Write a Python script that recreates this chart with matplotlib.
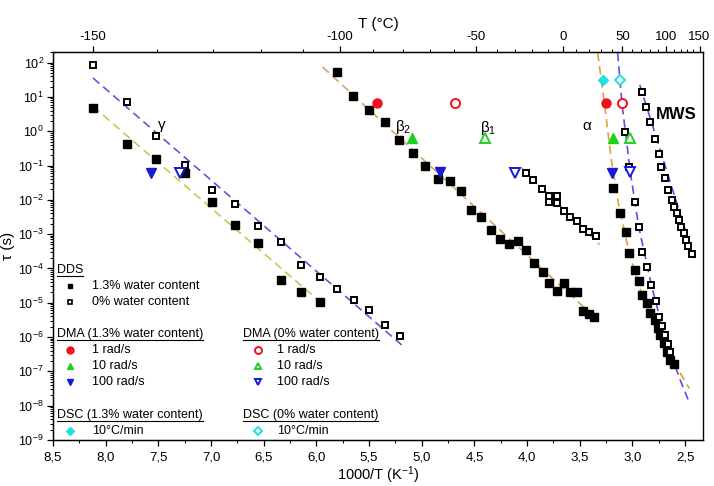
import numpy as np
import matplotlib
matplotlib.use("Agg")
import matplotlib.pyplot as plt
from matplotlib.ticker import MultipleLocator, LogLocator, FixedLocator, NullFormatter, FuncFormatter

plt.rcParams['font.family'] = ['Liberation Sans', 'DejaVu Sans']
plt.rcParams['mathtext.fontset'] = 'custom'
plt.rcParams['mathtext.rm'] = 'Liberation Sans'
plt.rcParams['mathtext.it'] = 'Liberation Sans:italic'
plt.rcParams['mathtext.default'] = 'regular'

# ---- DDS, gamma relaxation ----
gam0_x = [8.12, 7.80, 7.52, 7.25, 6.99, 6.77, 6.55, 6.34, 6.15, 5.97, 5.80, 5.64, 5.50, 5.35, 5.21]
gam0_logtau = [1.93, 0.86, -0.14, -0.98, -1.71, -2.12, -2.75, -3.24, -3.90, -4.26, -4.59, -4.92, -5.21, -5.65, -5.96]
gam13_x = [8.12, 7.80, 7.52, 7.25, 6.99, 6.77, 6.55, 6.34, 6.15, 5.97]
gam13_logtau = [0.69, -0.37, -0.82, -1.22, -2.07, -2.73, -3.27, -4.34, -4.68, -4.97]

# ---- DDS, beta2 (1.3 %) ----
beta2_x = [5.80, 5.65, 5.50, 5.35, 5.22, 5.08, 4.97, 4.85, 4.73, 4.63, 4.53, 4.44, 4.34, 4.26,
           4.17, 4.09, 4.01, 3.93, 3.85, 3.79, 3.72, 3.65, 3.59, 3.53, 3.47, 3.41, 3.36]
beta2_logtau = [1.74, 1.04, 0.62, 0.28, -0.25, -0.63, -1.01, -1.38, -1.46, -1.73, -2.31, -2.49, -2.88, -3.15,
                -3.29, -3.19, -3.46, -3.83, -4.11, -4.43, -4.66, -4.43, -4.69, -4.69, -5.25, -5.34, -5.41]

# ---- DDS, beta1 (0 %) ----
beta1_x = [4.01, 3.94, 3.86, 3.79, 3.72, 3.79, 3.72, 3.65, 3.59, 3.53, 3.47, 3.41, 3.35]
beta1_logtau = [-1.21, -1.43, -1.69, -1.89, -1.89, -2.05, -2.09, -2.33, -2.49, -2.62, -2.85, -2.93, -3.04]

# ---- DDS, alpha ----
alpha13_x = [3.18, 3.12, 3.06, 3.03, 2.98, 2.935, 2.91, 2.86, 2.83, 2.79, 2.76, 2.74, 2.70, 2.67, 2.64, 2.61]
alpha13_logtau = [-1.66, -2.39, -2.93, -3.54, -4.04, -4.38, -4.77, -5.01, -5.31, -5.50, -5.74, -5.94, -6.18, -6.43, -6.67, -6.78]
alpha0_x = [3.07, 3.03, 2.98, 2.94, 2.91, 2.86, 2.82, 2.78, 2.75, 2.72, 2.69, 2.66, 2.64]
alpha0_logtau = [-0.01, -1.03, -2.05, -2.78, -3.51, -3.95, -4.48, -4.94, -5.41, -5.68, -5.94, -6.20, -6.43]

# ---- DDS, MWS (0 %) ----
mws_x = [2.91, 2.87, 2.83, 2.79, 2.75, 2.73, 2.69, 2.66, 2.62, 2.61, 2.58, 2.56, 2.54, 2.51, 2.49, 2.47, 2.43]
mws_logtau = [1.13, 0.70, 0.28, -0.23, -0.66, -1.03, -1.37, -1.71, -2.00, -2.20, -2.39, -2.59, -2.78, -2.97, -3.17, -3.36, -3.58]

# ---- DMA / DSC points ----
dma13_1_x, dma13_1_logtau = [5.42, 3.255], [0.83, 0.82]
dma13_10_x, dma13_10_logtau = [5.09, 3.18], [-0.20, -0.20]
dma13_100_x, dma13_100_logtau = [7.57, 4.83, 3.19], [-1.22, -1.18, -1.21]
dma0_1_x, dma0_1_logtau = [4.68, 3.10], [0.82, 0.82]
dma0_10_x, dma0_10_logtau = [4.40, 3.02], [-0.19, -0.20]
dma0_100_x, dma0_100_logtau = [7.29, 4.11, 3.02], [-1.21, -1.21, -1.18]
dsc13_x, dsc13_logtau = [3.28], [1.48]
dsc0_x, dsc0_logtau = [3.115], [1.48]

# ---- fit lines ----
fit_gam0_x, fit_gam0_logtau = [8.12, 5.19], [1.55, -6.23]
fit_gam13_x, fit_gam13_logtau = [8.12, 5.95], [0.72, -5.01]
fit_beta2_x, fit_beta2_logtau = [5.94, 3.33], [1.87, -5.50]
fit_beta1_x, fit_beta1_logtau = [4.05, 3.31], [-1.07, -3.31]
fit_alpha13_x = [3.33, 3.27, 3.20, 3.13, 3.03, 2.91, 2.74, 2.61, 2.49, 2.46]
fit_alpha13_logtau = [2.28, 0.91, -0.84, -2.15, -3.55, -4.77, -5.94, -6.73, -7.34, -7.50]
fit_alpha0_x = [3.14, 3.10, 3.02, 2.94, 2.82, 2.72, 2.64, 2.555, 2.47]
fit_alpha0_logtau = [2.28, 0.825, -1.19, -2.79, -4.48, -5.68, -6.43, -7.19, -7.83]
fit_mws_x, fit_mws_logtau = [2.93, 2.41], [1.35, -3.75]

T_major = [-150, -100, -50, 0, 50, 100, 150]
T_minor = list(range(-150, 160, 10))

fig = plt.figure(figsize=(7.14, 4.86), dpi=100)
ax = fig.add_axes([0.0742, 0.0947, 0.9104, 0.7984])
ax.set_yscale('log')

dash = (0, (5, 3))
def fitline(x, lt, c):
    ax.plot(x, np.power(10.0, lt), ls=dash, color=c, lw=1.2, zorder=2)

fitline(fit_gam0_x, fit_gam0_logtau, '#5a5ad8')
fitline(fit_gam13_x, fit_gam13_logtau, '#c9c74e')
fitline(fit_beta2_x, fit_beta2_logtau, '#d8a65a')
fitline(fit_beta1_x, fit_beta1_logtau, '#c9b84e')
fitline(fit_alpha13_x, fit_alpha13_logtau, '#e6a030')
fitline(fit_alpha0_x, fit_alpha0_logtau, '#6a4ae0')
fitline(fit_mws_x, fit_mws_logtau, '#5a50e0')

def filled_sq(x, lt):
    ax.plot(x, np.power(10.0, lt), 's', color='black', ms=5.5, ls='none', zorder=3)

def open_sq(x, lt):
    ax.plot(x, np.power(10.0, lt), 's', mfc='white', mec='black', ms=5, mew=1.4, ls='none', zorder=3)

open_sq(gam0_x, gam0_logtau)
filled_sq(gam13_x, gam13_logtau)
filled_sq(beta2_x, beta2_logtau)
open_sq(beta1_x, beta1_logtau)
filled_sq(alpha13_x, alpha13_logtau)
open_sq(alpha0_x, alpha0_logtau)
open_sq(mws_x, mws_logtau)

red, green, blue, cyan = '#f01020', '#20d020', '#1818d8', '#20e0e0'
sty = {
    'd13_1': dict(marker='o', color=red, ms=6.5),
    'd13_10': dict(marker='^', color=green, ms=6.5),
    'd13_100': dict(marker='v', color=blue, ms=6.5),
    'd0_1': dict(marker='o', mfc='white', mec=red, mew=1.4, ms=6.5),
    'd0_10': dict(marker='^', mfc='white', mec=green, mew=1.4, ms=6.5),
    'd0_100': dict(marker='v', mfc='white', mec=blue, mew=1.4, ms=6.5),
    'dsc13': dict(marker='D', color=cyan, ms=5.5),
    'dsc0': dict(marker='D', mfc='white', mec=cyan, mew=1.4, ms=5.5),
}
for key, x, lt in [('d13_1', dma13_1_x, dma13_1_logtau), ('d13_10', dma13_10_x, dma13_10_logtau),
                   ('d13_100', dma13_100_x, dma13_100_logtau), ('d0_1', dma0_1_x, dma0_1_logtau),
                   ('d0_10', dma0_10_x, dma0_10_logtau), ('d0_100', dma0_100_x, dma0_100_logtau),
                   ('dsc13', dsc13_x, dsc13_logtau), ('dsc0', dsc0_x, dsc0_logtau)]:
    ax.plot(x, np.power(10.0, lt), ls='none', zorder=4, **sty[key])

# relaxation labels
ax.text(7.47, 10**0.18, 'γ', fontsize=11, ha='center', va='center')
ax.text(5.18, 10**0.13, 'β$_2$', fontsize=11, ha='center', va='center')
ax.text(4.37, 10**0.10, 'β$_1$', fontsize=11, ha='center', va='center')
ax.text(3.43, 10**0.15, 'α', fontsize=11, ha='center', va='center')
ax.text(2.58, 10**0.48, 'MWS', fontsize=12, fontweight='bold', ha='center', va='center')

# axes
ax.set_xlim(8.5, 2.33)
ax.set_ylim(1e-9, 10**2.31)
ax.xaxis.set_major_locator(MultipleLocator(0.5))
ax.xaxis.set_minor_locator(MultipleLocator(0.25))
ax.xaxis.set_major_formatter(FuncFormatter(lambda v, p: f"{v:.1f}".replace('.', ',')))
ax.yaxis.set_major_locator(LogLocator(base=10, numticks=20))
ax.yaxis.set_minor_locator(LogLocator(base=10, subs=np.arange(2, 10), numticks=20))
ax.yaxis.set_minor_formatter(NullFormatter())
ax.tick_params(which='both', direction='out', top=False, right=False, labelsize=9.5)
ax.tick_params(axis='y', labelsize=9, pad=2)
ax.tick_params(which='major', length=4.5, width=0.9)
ax.tick_params(which='minor', length=2.5, width=0.7)
ax.set_xlabel('1000/T (K$^{-1}$)', fontsize=10.5, labelpad=1)
ax.set_ylabel('τ (s)', fontsize=11)
ax.yaxis.set_label_coords(-0.058, 0.5)
for s in ax.spines.values():
    s.set_linewidth(1.0)
ax.spines['right'].set_color('#555555')

ax2 = ax.twiny()
ax2.set_xlim(ax.get_xlim())
ax2.set_xticks([1000.0 / (t + 273.15) for t in T_major])
ax2.set_xticklabels([str(t) for t in T_major])
ax2.xaxis.set_minor_locator(FixedLocator([1000.0 / (t + 273.15) for t in T_minor]))
ax2.tick_params(which='both', direction='out', labelsize=9.5, pad=2)
ax2.tick_params(which='major', length=4.5, width=0.9)
ax2.tick_params(which='minor', length=2.5, width=0.7)
ax2.set_xlabel('T (°C)', fontsize=11, labelpad=2)

# custom legend
headers = [(0.006, 0.438, 'DDS'), (0.006, 0.273, 'DMA (1.3% water content)'),
           (0.292, 0.273, 'DMA (0% water content)'), (0.006, 0.064, 'DSC (1.3% water content)'),
           (0.292, 0.064, 'DSC (0% water content)')]
entries = [
    (0.026, 0.060, 0.397, dict(marker='s', color='black', ms=4.5), '1.3% water content'),
    (0.026, 0.060, 0.356, dict(marker='s', mfc='white', mec='black', mew=1.2, ms=4), '0% water content'),
    (0.026, 0.060, 0.232, sty['d13_1'], '1 rad/s'),
    (0.026, 0.060, 0.191, sty['d13_10'], '10 rad/s'),
    (0.026, 0.060, 0.149, sty['d13_100'], '100 rad/s'),
    (0.315, 0.345, 0.232, sty['d0_1'], '1 rad/s'),
    (0.315, 0.345, 0.191, sty['d0_10'], '10 rad/s'),
    (0.315, 0.345, 0.149, sty['d0_100'], '100 rad/s'),
    (0.026, 0.060, 0.023, sty['dsc13'], '10°C/min'),
    (0.315, 0.345, 0.023, sty['dsc0'], '10°C/min'),
]
for mx, tx, y, st, label in entries:
    st = dict(st)
    st['ms'] = st.get('ms', 5) - 1.5
    ax.plot([mx], [y], transform=ax.transAxes, clip_on=False, ls='none', zorder=5, **st)
    ax.text(tx, y, label, transform=ax.transAxes, fontsize=9, va='center', ha='left')

head_texts = [ax.text(x, y, t, transform=ax.transAxes, fontsize=9, va='center', ha='left')
              for x, y, t in headers]
fig.canvas.draw()
inv = ax.transAxes.inverted()
for t in head_texts:
    bb = t.get_window_extent()
    (x0, y0), (x1, _) = inv.transform([(bb.x0, bb.y0), (bb.x1, bb.y0)])
    ax.plot([x0, x1], [y0, y0], transform=ax.transAxes, color='black', lw=0.8, clip_on=False)

fig.savefig('out.png', dpi=100)
